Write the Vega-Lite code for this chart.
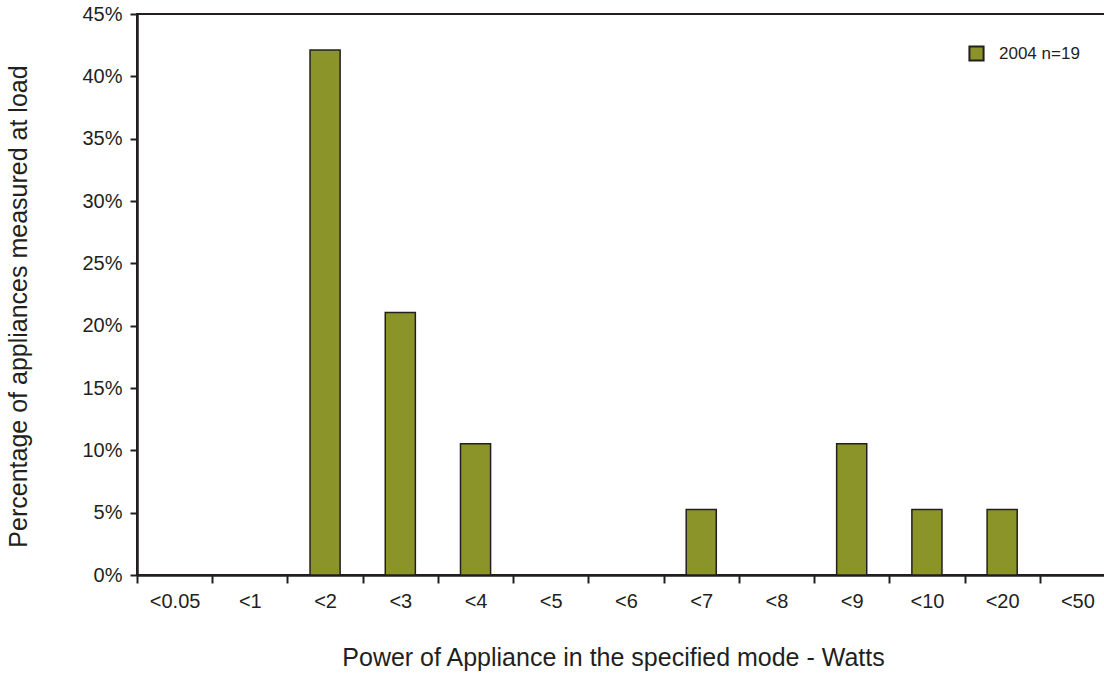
{
  "$schema": "https://vega.github.io/schema/vega-lite/v6.json",
  "width": 978,
  "height": 561,
  "autosize": "none",
  "padding": {"left": 137, "top": 14, "right": 0, "bottom": 98},
  "background": "white",
  "config": {
    "font": "Liberation Sans",
    "view": {"stroke": "#231f20", "strokeWidth": 2}
  },
  "data": {
    "values": [
      {"power": "<0.05", "pct": 0, "series": "2004 n=19"},
      {"power": "<1", "pct": 0, "series": "2004 n=19"},
      {"power": "<2", "pct": 0.4211, "series": "2004 n=19"},
      {"power": "<3", "pct": 0.2105, "series": "2004 n=19"},
      {"power": "<4", "pct": 0.1053, "series": "2004 n=19"},
      {"power": "<5", "pct": 0, "series": "2004 n=19"},
      {"power": "<6", "pct": 0, "series": "2004 n=19"},
      {"power": "<7", "pct": 0.0526, "series": "2004 n=19"},
      {"power": "<8", "pct": 0, "series": "2004 n=19"},
      {"power": "<9", "pct": 0.1053, "series": "2004 n=19"},
      {"power": "<10", "pct": 0.0526, "series": "2004 n=19"},
      {"power": "<20", "pct": 0.0526, "series": "2004 n=19"},
      {"power": "<50", "pct": 0, "series": "2004 n=19"}
    ]
  },
  "mark": {"type": "bar", "stroke": "#231f20", "strokeWidth": 1.5, "width": {"band": 0.4}},
  "encoding": {
    "x": {
      "field": "power",
      "type": "nominal",
      "sort": null,
      "scale": {
        "domain": ["<0.05", "<1", "<2", "<3", "<4", "<5", "<6", "<7", "<8", "<9", "<10", "<20", "<50"],
        "paddingInner": 0,
        "paddingOuter": 0
      },
      "axis": {
        "title": "Power of Appliance in the specified mode - Watts",
        "titleFontSize": 25,
        "titleFontWeight": "normal",
        "titleColor": "#231f20",
        "titleX": 476,
        "titleY": 82,
        "titleBaseline": "middle",
        "titleAlign": "center",
        "labelAngle": 0,
        "labelFontSize": 20,
        "labelColor": "#231f20",
        "labelPadding": 8,
        "tickBand": "extent",
        "tickSize": 8,
        "tickWidth": 2,
        "tickColor": "#231f20",
        "domainColor": "#231f20",
        "domainWidth": 2.5
      }
    },
    "y": {
      "field": "pct",
      "type": "quantitative",
      "scale": {"domain": [0, 0.45], "nice": false},
      "axis": {
        "title": "Percentage of appliances measured at load",
        "titleFontSize": 25,
        "titleFontWeight": "normal",
        "titleColor": "#231f20",
        "titleX": -119,
        "titleY": 292,
        "titleAngle": -90,
        "titleBaseline": "middle",
        "titleAlign": "center",
        "values": [0, 0.05, 0.1, 0.15, 0.2, 0.25, 0.3, 0.35, 0.4, 0.45],
        "format": ".0%",
        "labelFontSize": 20,
        "labelColor": "#231f20",
        "labelPadding": 8,
        "tickSize": 7,
        "tickWidth": 2,
        "tickColor": "#231f20",
        "domainColor": "#231f20",
        "domainWidth": 2.5,
        "grid": false
      }
    },
    "fill": {
      "field": "series",
      "type": "nominal",
      "scale": {"range": ["#8a9428"]},
      "legend": {
        "title": null,
        "orient": "none",
        "legendX": 831,
        "legendY": 31,
        "symbolType": "square",
        "symbolSize": 200,
        "symbolStrokeColor": "#231f20",
        "symbolStrokeWidth": 2,
        "labelFontSize": 17,
        "labelColor": "#231f20",
        "labelOffset": 14
      }
    }
  }
}
